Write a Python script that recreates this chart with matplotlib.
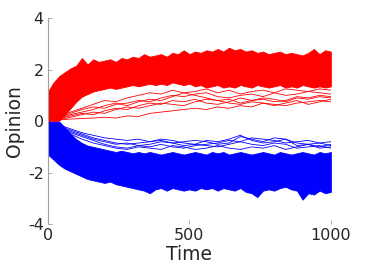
import matplotlib
matplotlib.use('Agg')
import matplotlib.pyplot as plt
import numpy as np

plt.rcParams['axes.unicode_minus'] = False
plt.rcParams['font.family'] = 'DejaVu Sans'

# time grid of the band edges (every 20 steps) and of the stray paths (every 40)
t_env = np.arange(0, 1001, 20)
t_out = np.arange(0, 1001, 40)

# red group: top and bottom edge of the dense band
red_top = [1.15, 1.5, 1.75, 1.9, 2.05, 2.15, 2.45, 2.2, 2.4, 2.3, 2.35, 2.4, 2.3,
           2.45, 2.4, 2.5, 2.45, 2.6, 2.5, 2.55, 2.6, 2.5, 2.65, 2.6, 2.75, 2.6,
           2.7, 2.65, 2.75, 2.7, 2.8, 2.7, 2.85, 2.75, 2.8, 2.7, 2.75, 2.65, 2.7,
           2.6, 2.65, 2.7, 2.6, 2.65, 2.6, 2.55, 2.65, 2.8, 2.6, 2.75, 2.7]
red_bot = [0.0, 0.0, 0.02, 0.25, 0.5, 0.75, 0.95, 1.05, 1.15, 1.2, 1.25, 1.3, 1.25,
           1.3, 1.35, 1.4, 1.35, 1.4, 1.45, 1.4, 1.45, 1.4, 1.5, 1.45, 1.4, 1.45,
           1.35, 1.4, 1.3, 1.35, 1.4, 1.3, 1.35, 1.3, 1.4, 1.35, 1.3, 1.4, 1.35,
           1.3, 1.35, 1.4, 1.3, 1.35, 1.3, 1.4, 1.35, 1.3, 1.35, 1.3, 1.35]

# blue group: edge nearest zero and most negative edge
blue_top = [0.0, 0.0, -0.02, -0.25, -0.5, -0.7, -0.85, -0.95, -1.0, -1.05, -1.1,
            -1.15, -1.2, -1.15, -1.2, -1.25, -1.2, -1.25, -1.2, -1.25, -1.3, -1.25,
            -1.2, -1.25, -1.3, -1.25, -1.2, -1.25, -1.3, -1.2, -1.25, -1.2, -1.3,
            -1.25, -1.2, -1.25, -1.3, -1.25, -1.2, -1.25, -1.3, -1.2, -1.25, -1.3,
            -1.25, -1.2, -1.25, -1.3, -1.2, -1.25, -1.2]
blue_bot = [-1.3, -1.5, -1.7, -1.85, -1.95, -2.05, -2.15, -2.25, -2.3, -2.35, -2.4,
            -2.35, -2.45, -2.5, -2.55, -2.6, -2.65, -2.7, -2.8, -2.65, -2.6, -2.7,
            -2.6, -2.65, -2.7, -2.65, -2.7, -2.6, -2.65, -2.6, -2.7, -2.6, -2.65,
            -2.7, -2.6, -2.75, -2.8, -2.95, -2.7, -2.65, -2.7, -2.6, -2.55, -2.65,
            -2.7, -3.05, -2.8, -2.85, -2.7, -2.8, -2.75]

# stray red paths below the band
red_paths = [
    [0, 0.05, 0.08, 0.1, 0.12, 0.15, 0.12, 0.2, 0.18, 0.3, 0.35, 0.4, 0.45, 0.5,
     0.45, 0.55, 0.5, 0.6, 0.55, 0.7, 0.65, 0.6, 0.7, 0.75, 0.8, 0.75],
    [0, 0.1, 0.2, 0.3, 0.25, 0.4, 0.5, 0.45, 0.6, 0.7, 0.65, 0.8, 0.75, 0.85,
     0.7, 0.65, 0.75, 0.9, 0.8, 0.85, 0.75, 0.8, 0.95, 0.9, 1.0, 0.95],
    [0, 0.15, 0.3, 0.45, 0.55, 0.5, 0.65, 0.7, 0.8, 0.75, 0.9, 1.0, 0.95, 1.05,
     1.1, 0.95, 0.9, 1.0, 1.05, 0.95, 1.1, 1.0, 1.05, 1.15, 1.1, 1.05],
    [0, 0.2, 0.35, 0.5, 0.65, 0.8, 0.75, 0.9, 1.0, 1.1, 1.05, 1.2, 1.1, 1.15,
     1.25, 1.1, 1.2, 1.05, 1.15, 1.2, 1.1, 1.25, 1.2, 1.15, 1.25, 1.2],
    [0, 0.1, 0.25, 0.35, 0.45, 0.6, 0.7, 0.6, 0.75, 0.85, 0.8, 0.95, 1.1, 1.0,
     0.9, 0.8, 0.85, 0.7, 0.8, 0.9, 0.85, 0.75, 0.9, 0.85, 0.95, 0.9],
    [0, 0.05, 0.15, 0.25, 0.35, 0.3, 0.45, 0.55, 0.5, 0.6, 0.7, 0.65, 0.6, 0.75,
     0.85, 0.8, 0.7, 0.65, 0.75, 0.7, 0.6, 0.7, 0.8, 0.65, 0.75, 0.85],
]

# stray blue paths above the band
blue_paths = [
    [0, -0.15, -0.3, -0.45, -0.55, -0.65, -0.7, -0.75, -0.7, -0.8, -0.75, -0.85,
     -0.8, -0.75, -0.8, -0.9, -0.85, -0.6, -0.7, -0.8, -0.65, -0.7, -0.85, -0.9,
     -0.85, -0.95],
    [0, -0.2, -0.4, -0.55, -0.7, -0.8, -0.9, -0.85, -0.95, -0.9, -0.8, -0.85,
     -0.95, -0.9, -0.75, -0.8, -0.7, -0.55, -0.75, -0.85, -0.8, -0.7, -0.95, -0.9,
     -1.0, -0.9],
    [0, -0.25, -0.45, -0.6, -0.75, -0.9, -1.0, -1.05, -0.95, -1.0, -0.9, -1.0,
     -1.05, -0.95, -0.9, -0.85, -0.75, -0.8, -0.9, -0.95, -0.85, -0.9, -1.05, -1.0,
     -0.95, -1.05],
    [0, -0.2, -0.35, -0.5, -0.65, -0.75, -0.85, -0.9, -0.85, -0.8, -0.7, -0.75,
     -0.85, -0.9, -0.95, -1.0, -0.9, -0.8, -0.65, -0.7, -0.75, -0.85, -0.8, -0.75,
     -0.85, -0.8],
    [0, -0.3, -0.5, -0.7, -0.85, -0.95, -1.05, -1.1, -1.0, -1.05, -1.1, -0.95,
     -1.0, -1.1, -1.05, -0.95, -1.05, -1.1, -1.0, -1.05, -0.95, -1.1, -1.0, -0.9,
     -1.05, -1.0],
]

fig = plt.figure(figsize=(3.66, 2.74), dpi=100)
ax = fig.add_axes([0.131, 0.182, 0.773, 0.752])

# blue first, red drawn over it
ax.fill_between(t_env, blue_bot, blue_top, color='blue', lw=0.6)
for p in blue_paths:
    ax.plot(t_out, p, color='blue', lw=0.6)
ax.fill_between(t_env, red_bot, red_top, color='red', lw=0.6)
for p in red_paths:
    ax.plot(t_out, p, color='red', lw=0.6)

ax.set_xlim(0, 1000)
ax.set_ylim(-4, 4)
ax.set_xticks([0, 500, 1000])
ax.set_yticks([-4, -2, 0, 2, 4])
ax.set_xlabel('Time', fontsize=13.5, color='#262626', labelpad=1)
ax.set_ylabel('Opinion', fontsize=13.5, color='#262626', labelpad=3)

for s in ['top', 'right', 'bottom']:
    ax.spines[s].set_visible(False)
ax.spines['left'].set_color('#a0a0a0')
ax.spines['left'].set_linewidth(0.8)
ax.tick_params(direction='in', length=3, width=0.6, color='#a0a0a0',
               labelsize=11.5, labelcolor='#262626', pad=3)

fig.savefig('out.png', dpi=100)
